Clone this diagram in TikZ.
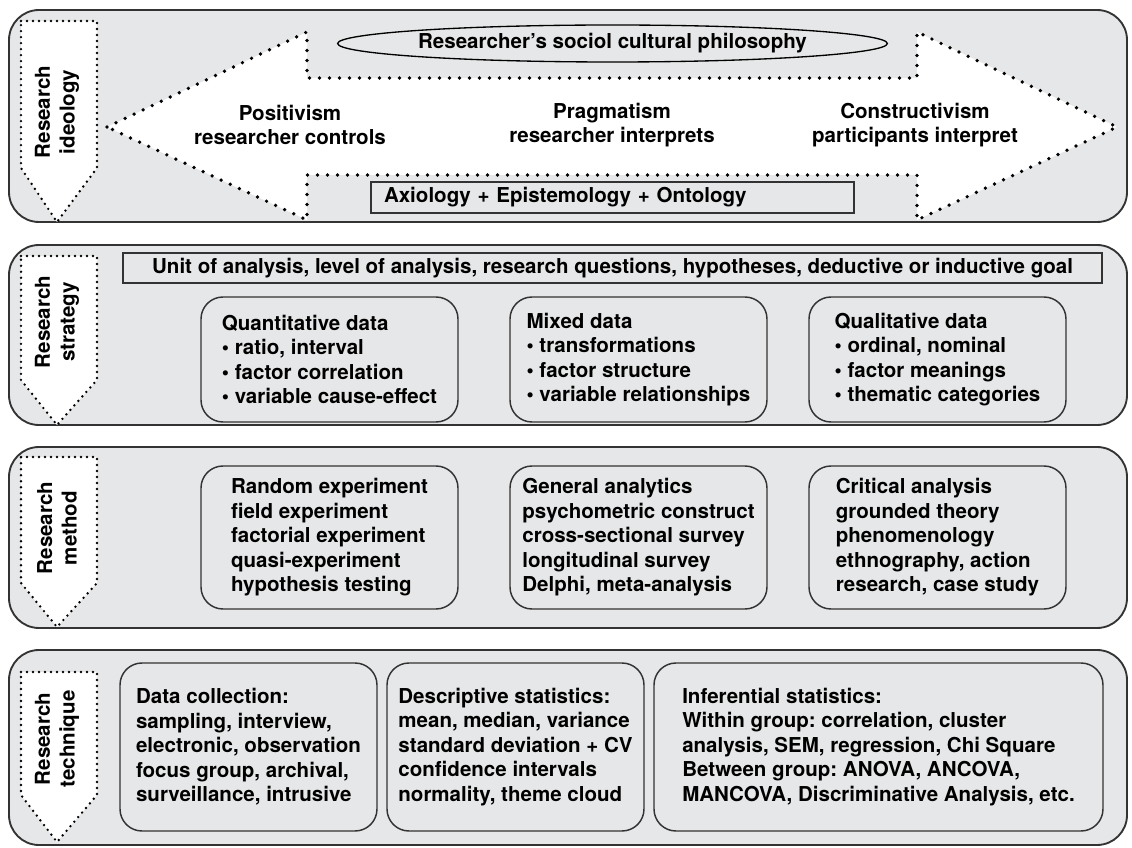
\documentclass[tikz,border=0pt]{standalone}
\usepackage{fontspec}
\setmainfont{TeX Gyre Heros}
\usetikzlibrary{shapes.geometric}
\definecolor{panelgray}{HTML}{E6E7E8}
\definecolor{edgegray}{HTML}{333333}
\frenchspacing

\begin{document}
\begin{tikzpicture}
  [x=0.75pt, y=-0.75pt, font=\fontsize{15.4}{18.4}\selectfont\bfseries\frenchspacing,
   panel/.style={draw=edgegray, fill=panelgray, line width=1.4pt, rounded corners=22.5pt},
   tagarrow/.style={draw=black, fill=white, line width=2pt, line cap=round, dash pattern=on 0pt off 4.5pt},
   bigarrow/.style={draw=black, fill=white, line width=2.8pt, line cap=round, dash pattern=on 0pt off 7.5pt},
   tagtext/.style={rotate=90, align=center, inner sep=0pt},
   databox/.style={draw=edgegray, fill=panelgray, line width=1.1pt, rounded corners=16.5pt, align=left, minimum width=192.75pt},
   flatbox/.style={draw=edgegray, fill=panelgray, line width=1.1pt}]
  \useasboundingbox (0,0) rectangle (1132,848);

  % panels
  \draw[panel] (9,10) rectangle (1127,222);
  \draw[panel] (9,245) rectangle (1127,425);
  \draw[panel] (9,447) rectangle (1127,628);
  \draw[panel] (9,650) rectangle (1127,845);

  % side tags
  \draw[tagarrow] (21,21) -- (97,21) -- (97,168) -- (57,222) -- (21,168) -- cycle;
  \draw[tagarrow] (21,256) -- (97,256) -- (97,380) -- (57,425) -- (21,380) -- cycle;
  \draw[tagarrow] (21,457) -- (97,457) -- (97,583) -- (57,627) -- (21,583) -- cycle;
  \draw[tagarrow] (21,672) -- (97,672) -- (97,795) -- (57,842) -- (21,795) -- cycle;
  \node[tagtext] (ideology) at (57,112) {Research\\ideology};
  \node[tagtext] (strategy) at (57,322) {Research\\strategy};
  \node[tagtext] (method) at (57,528) {Research\\method};
  \node[tagtext] (technique) at (57,739) {Research\\technique};

  % research ideology
  \draw[bigarrow] (107,127) -- (307,32) -- (307,78) -- (917,78) -- (917,32) -- (1117,127)
    -- (917,220) -- (917,175) -- (307,175) -- (307,220) -- cycle;
  \node[ellipse, draw=black, fill=panelgray, line width=1pt, inner sep=0pt,
    minimum width=393.75pt, minimum height=27.75pt] (philo) at (612.5,43.5)
    {Researcher’s sociol cultural philosophy};
  \node[align=center] (posit) at (290,125) {Positivism\\researcher controls};
  \node[align=center] (pragm) at (612,125) {Pragmatism\\researcher interprets};
  \node[align=center] (constr) at (915,125) {Constructivism\\participants interpret};
  \node[flatbox, align=left, inner xsep=9.75pt, text width=342.75pt, minimum height=23.25pt]
    (axio) at (612.5,197.5) {Axiology + Epistemology + Ontology};

  % research strategy
  \node[flatbox, minimum width=734.25pt, minimum height=22.5pt] (unit) at (612.5,268)
    {Unit of analysis, level of analysis, research questions, hypotheses, deductive or inductive goal};
  \node[databox, minimum height=93.75pt] (quant) at (329.5,359.5)
    {Quantitative data\\• ratio, interval\\• factor correlation\\• variable cause-effect};
  \node[databox, minimum height=93.75pt] (mixed) at (638.5,359.5)
    {Mixed data\\• transformations\\• factor structure\\• variable relationships};
  \node[databox, minimum height=93.75pt] (qual) at (937.5,359.5)
    {Qualitative data\\• ordinal, nominal\\• factor meanings\\• thematic categories};

  % research method
  \node[databox, minimum height=107.25pt] (experi) at (329.5,537.5)
    {Random experiment\\field experiment\\factorial experiment\\quasi-experiment\\hypothesis testing};
  \node[databox, minimum height=107.25pt] (survey) at (638.5,537.5)
    {General analytics\\psychometric construct\\cross-sectional survey\\longitudinal survey\\Delphi, meta-analysis};
  \node[databox, minimum height=107.25pt] (critic) at (937.5,537.5)
    {Critical analysis\\grounded theory\\phenomenology\\ethnography, action\\research, case study};

  % research technique
  \node[databox, minimum height=126pt] (collect) at (248.5,747)
    {Data collection:\\sampling, interview,\\electronic, observation\\focus group, archival,\\surveillance, intrusive};
  \node[databox, minimum height=126pt] (descr) at (515.5,747)
    {Descriptive statistics:\\mean, median, variance\\standard deviation + CV\\confidence intervals\\normality, theme cloud};
  \node[databox, minimum width=336.75pt, minimum height=126pt] (infer) at (878.5,747)
    {Inferential statistics:\\Within group: correlation, cluster\\analysis, SEM, regression, Chi Square\\Between group: ANOVA, ANCOVA,\\MANCOVA, Discriminative Analysis, etc.};
\end{tikzpicture}
\end{document}
